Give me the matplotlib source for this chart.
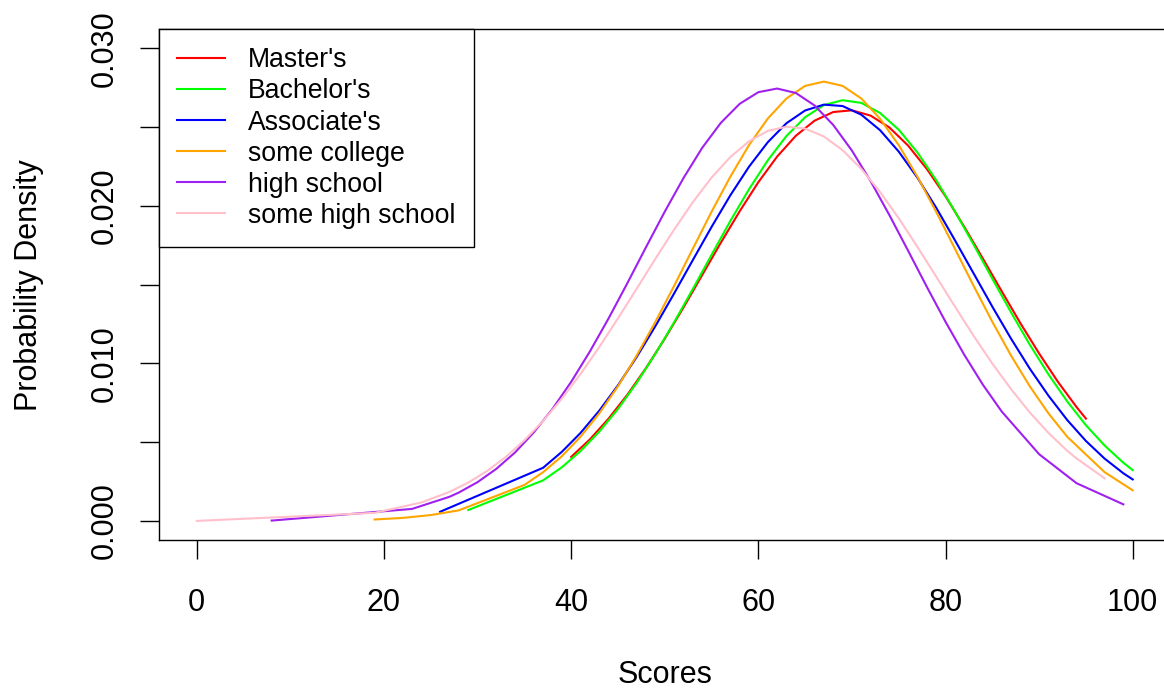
import matplotlib
matplotlib.use("Agg")
import matplotlib.pyplot as plt

plt.rcParams['font.family'] = ['Liberation Sans', 'DejaVu Sans']

# density values, one curve per education level
labels = ["Master's", "Bachelor's", "Associate's", "some college",
          "high school", "some high school"]
colors = ["#FF0000", "#00FF00", "#0000FF", "#FFA500", "#A020F0", "#FFC0CB"]

masters_x = [40, 42, 44, 46, 48, 50, 52, 54, 56, 58, 60, 62, 64, 66, 68, 70,
             72, 74, 76, 78, 80, 82, 84, 86, 88, 90, 92, 94, 95]
masters_y = [0.00407, 0.00518, 0.00650, 0.00801, 0.00971, 0.01157, 0.01355,
             0.01561, 0.01767, 0.01965, 0.02150, 0.02312, 0.02444, 0.02540,
             0.02595, 0.02606, 0.02572, 0.02497, 0.02382, 0.02234, 0.02060,
             0.01867, 0.01664, 0.01458, 0.01255, 0.01063, 0.00884, 0.00723,
             0.00650]

bachelors_x = [29, 37, 39, 41, 43, 45, 47, 49, 51, 53, 55, 57, 59, 61, 63, 65,
               67, 69, 71, 73, 75, 77, 79, 81, 83, 85, 87, 89, 91, 93, 95, 97,
               99, 100]
bachelors_y = [0.00070, 0.00258, 0.00341, 0.00444, 0.00567, 0.00711, 0.00877,
               0.01061, 0.01261, 0.01472, 0.01689, 0.01903, 0.02105, 0.02288,
               0.02443, 0.02562, 0.02639, 0.02670, 0.02653, 0.02589, 0.02483,
               0.02338, 0.02163, 0.01965, 0.01754, 0.01537, 0.01324, 0.01119,
               0.00930, 0.00759, 0.00608, 0.00479, 0.00370, 0.00323]

associates_x = [26, 37, 39, 41, 43, 45, 47, 49, 51, 53, 55, 57, 59, 61, 63, 65,
                67, 69, 71, 73, 75, 77, 79, 81, 83, 85, 87, 89, 91, 93, 95, 97,
                99, 100]
associates_y = [0.00059, 0.00338, 0.00439, 0.00559, 0.00700, 0.00861, 0.01041,
                0.01237, 0.01444, 0.01656, 0.01866, 0.02066, 0.02248, 0.02403,
                0.02524, 0.02605, 0.02642, 0.02633, 0.02578, 0.02480, 0.02344,
                0.02178, 0.01988, 0.01782, 0.01571, 0.01360, 0.01157, 0.00967,
                0.00795, 0.00641, 0.00508, 0.00396, 0.00303, 0.00264]

college_x = [19, 22, 25, 28, 35, 37, 39, 41, 43, 45, 47, 49, 51, 53, 55, 57,
             59, 61, 63, 65, 67, 69, 71, 73, 75, 77, 79, 81, 83, 85, 87, 89,
             91, 93, 97, 100]
college_y = [0.00010, 0.00020, 0.00038, 0.00068, 0.00229, 0.00310, 0.00411,
             0.00535, 0.00683, 0.00855, 0.01050, 0.01264, 0.01492, 0.01728,
             0.01962, 0.02184, 0.02385, 0.02553, 0.02681, 0.02761, 0.02788,
             0.02761, 0.02681, 0.02553, 0.02385, 0.02184, 0.01962, 0.01728,
             0.01492, 0.01264, 0.01050, 0.00855, 0.00683, 0.00535, 0.00310,
             0.00195]

highschool_x = [8, 23, 27, 28, 30, 32, 34, 36, 38, 40, 42, 44, 46, 48, 50, 52,
                54, 56, 58, 60, 62, 64, 66, 68, 70, 72, 74, 76, 78, 80, 82, 84,
                86, 90, 94, 99]
highschool_y = [0.00003, 0.00077, 0.00154, 0.00181, 0.00247, 0.00331, 0.00435,
                0.00562, 0.00711, 0.00883, 0.01076, 0.01286, 0.01509, 0.01738,
                0.01963, 0.02176, 0.02368, 0.02527, 0.02647, 0.02721, 0.02744,
                0.02716, 0.02637, 0.02513, 0.02350, 0.02156, 0.01941, 0.01715,
                0.01486, 0.01264, 0.01055, 0.00864, 0.00695, 0.00424, 0.00240,
                0.00106]

somehigh_x = [0, 19, 24, 27, 29, 31, 33, 35, 37, 39, 41, 43, 45, 47, 49, 51,
              53, 55, 57, 59, 61, 63, 65, 67, 69, 71, 73, 75, 77, 79, 81, 83,
              85, 87, 89, 91, 93, 94, 97]
somehigh_y = [0.00001, 0.00052, 0.00118, 0.00185, 0.00244, 0.00317, 0.00406,
              0.00512, 0.00635, 0.00776, 0.00933, 0.01104, 0.01286, 0.01474,
              0.01664, 0.01849, 0.02023, 0.02179, 0.02309, 0.02409, 0.02475,
              0.02502, 0.02490, 0.02440, 0.02353, 0.02234, 0.02088, 0.01921,
              0.01739, 0.01551, 0.01361, 0.01175, 0.00999, 0.00837, 0.00689,
              0.00559, 0.00446, 0.00397, 0.00271]

xs = [masters_x, bachelors_x, associates_x, college_x, highschool_x, somehigh_x]
ys = [masters_y, bachelors_y, associates_y, college_y, highschool_y, somehigh_y]

x_ticks = [0, 20, 40, 60, 80, 100]
y_ticks = [0.000, 0.005, 0.010, 0.015, 0.020, 0.025, 0.030]
y_ticklabels = ["0.000", "", "0.010", "", "0.020", "", "0.030"]

fig = plt.figure(figsize=(11.64, 6.89), dpi=100)
# R-style plot region; the right edge runs past the image like the original
ax = fig.add_axes([0.1369, 0.2163, 0.8684, 0.7412])

for x, y, c, lab in zip(xs, ys, colors, labels):
    ax.plot(x, y, color=c, lw=1.5, label=lab)

ax.set_xlim(-4, 104)
ax.set_ylim(-0.0012, 0.0312)
ax.set_xticks(x_ticks)
ax.set_xticklabels([str(t) for t in x_ticks])
ax.set_yticks(y_ticks)
ax.set_yticklabels(y_ticklabels, rotation=90, va='center')

for sp in ax.spines.values():
    sp.set_linewidth(1.0)
ax.tick_params(axis='both', length=13.7, width=1.0, labelsize=22)
ax.tick_params(axis='x', pad=21)
ax.tick_params(axis='y', pad=15)

ax.set_xlabel("Scores", fontsize=22, labelpad=30)
ax.set_ylabel("Probability Density", fontsize=22, labelpad=33)

leg = ax.legend(loc='upper left', bbox_to_anchor=(0, 1), borderaxespad=0,
                fontsize=19.2, frameon=True, fancybox=False, framealpha=1,
                edgecolor='black', borderpad=0.68, handlelength=1.8,
                handletextpad=0.85, labelspacing=0.19)
leg.get_frame().set_linewidth(1.0)

fig.savefig("out.png", dpi=100)
